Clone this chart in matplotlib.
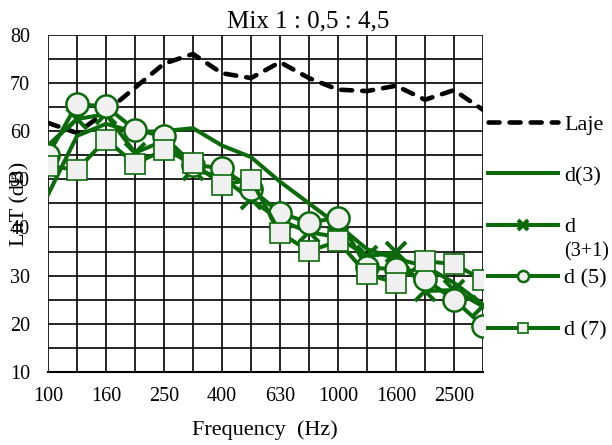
import matplotlib
matplotlib.use("Agg")
import matplotlib.pyplot as plt
import numpy as np

plt.rcParams['font.family'] = ['Liberation Serif', 'DejaVu Serif']

freqs = ["100", "125", "160", "200", "250", "315", "400", "500", "630", "800",
         "1000", "1250", "1600", "2000", "2500", "3150"]
tick_labels = ["100", "160", "250", "400", "630", "1000", "1600", "2500"]

laje = [61.7, 59.6, 64.0, 69.0, 74.0, 76.0, 72.0, 71.0, 74.3, 71.0, 68.6, 68.3, 69.4, 66.5, 68.5, 64.4]
d3 = [46.8, 59.0, 61.5, 59.8, 60.0, 60.6, 57.0, 54.6, 49.5, 45.0, 40.5, 35.5, 33.5, 32.0, 28.5, 24.0]
d31 = [57.0, 62.5, 63.5, 55.5, 58.0, 52.0, 50.4, 45.8, 41.5, 39.0, 38.0, 34.0, 34.8, 26.8, 27.0, 23.6]
d5 = [55.0, 65.6, 65.1, 60.3, 58.9, 53.0, 52.3, 48.0, 43.0, 41.0, 42.0, 31.7, 31.3, 29.3, 25.0, 19.6]
d7 = [52.7, 52.0, 58.2, 53.2, 56.1, 53.4, 48.9, 49.9, 38.9, 35.1, 37.1, 30.3, 28.5, 33.0, 32.4, 29.1]

green = "#0b6b0b"
face = "#f0f0f0"

W, H = 612, 445
fig = plt.figure(figsize=(W/100, H/100), dpi=100)
ax = fig.add_axes([48/W, 1-372/H, (483-48)/W, (372-34.7)/H])

x = np.arange(len(freqs))

ax.plot(x, laje, color="black", lw=3.3, dashes=(2.4, 2.2), dash_capstyle="round",
        label="Laje", zorder=3)
ax.plot(x, d3, color=green, lw=2.9, label="d(3)", zorder=4)
ax.plot(x, d31, color=green, lw=2.9, marker="x", ms=14, mew=2.9, label="d", zorder=5)
ax.plot(x, d5, color=green, lw=2.9, marker="o", ms=16, mfc=face, mec=green, mew=1.8,
        label="d (5)", zorder=6)
ax.plot(x, d7, color=green, lw=2.9, marker="s", ms=15, mfc=face, mec=green, mew=1.2,
        label="d (7)", zorder=7)

ax.set_xlim(0, len(freqs) - 1)
ax.set_ylim(10, 80)
ax.set_xticks(x)
ax.set_xticklabels([f if f in tick_labels else "" for f in freqs])
ax.set_yticks(np.arange(10, 81, 5))
ax.set_yticklabels([str(v) if v % 10 == 0 else "" for v in range(10, 81, 5)])
ax.grid(True, color="black", lw=1.2)
ax.set_axisbelow(True)
for s in ["left", "top", "right"]:
    ax.spines[s].set_visible(False)
ax.spines["bottom"].set_linewidth(1.5)
ax.tick_params(axis="both", length=0, labelsize=14.5)
ax.tick_params(axis="y", pad=13)
ax.tick_params(axis="x", pad=11)

fig.text(308/W, 1-27/H, "Mix 1 : 0,5 : 4,5", ha="center", va="baseline", fontsize=18)
fig.text(265/W, 1-430/H, "Frequency  (Hz)", ha="center", va="center", fontsize=16)
fig.text(20/W, 1-204/H, "LnT (dB)", ha="center", va="center", rotation=90, fontsize=16)

leg = fig.legend(loc="upper left", bbox_to_anchor=(488/W, 1-114/H), frameon=False,
                 fontsize=16, handlelength=3.15, markerscale=0.5, labelspacing=1.39,
                 handletextpad=0.27, borderaxespad=0, borderpad=0)

fig.canvas.draw()
bb = leg.get_texts()[2].get_window_extent(fig.canvas.get_renderer())
fig.text(bb.x0 / W, (bb.y0 - 5) / H, "(3+1)", ha="left", va="top", fontsize=14.5)

fig.savefig("out.png", dpi=100)
